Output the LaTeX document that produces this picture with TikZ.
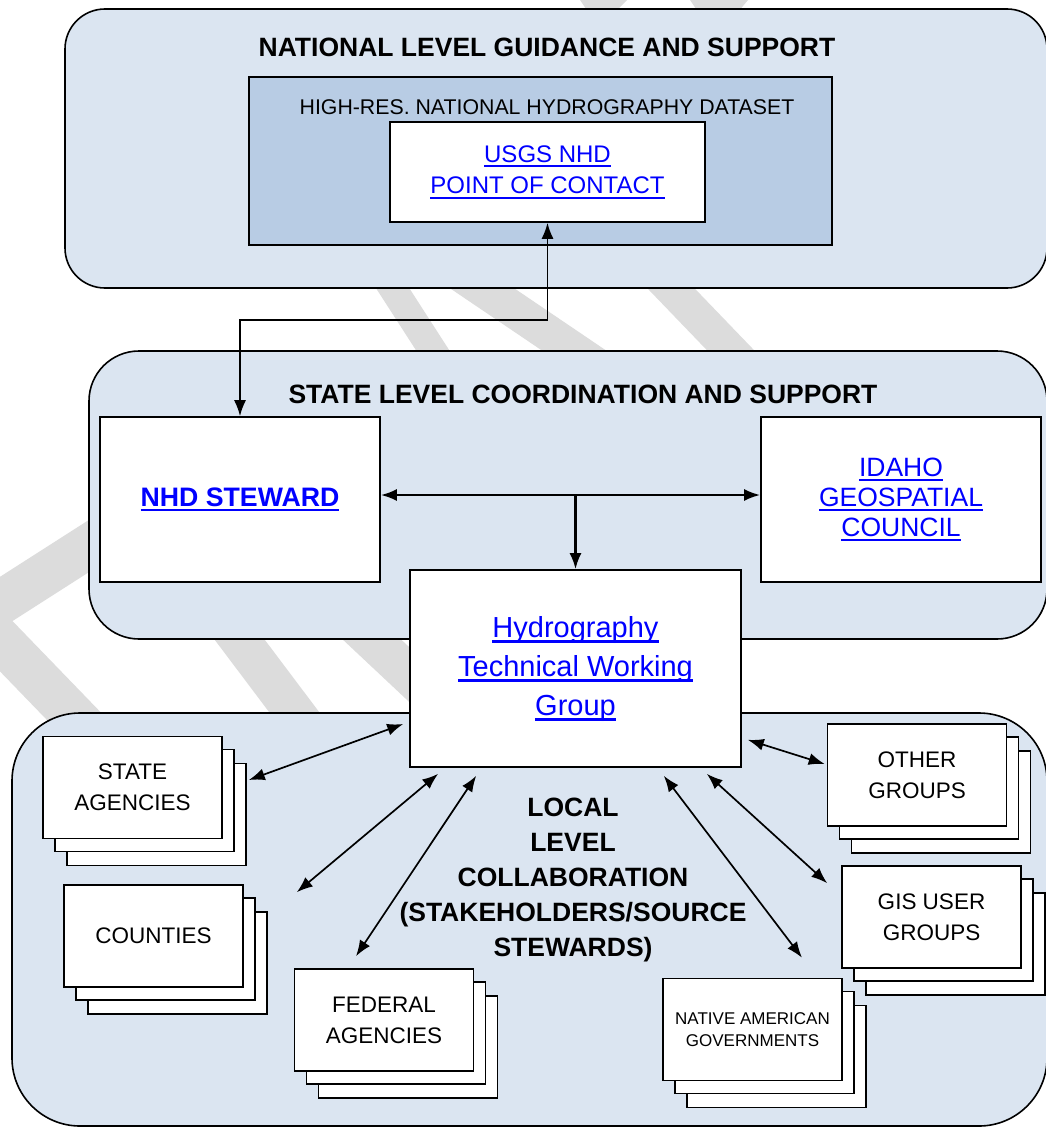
\documentclass[tikz,border=0pt]{standalone}
\usepackage{fontspec}
\setmainfont{Liberation Sans}
\usetikzlibrary{arrows.meta,shadows}

\definecolor{panelblue}{HTML}{DBE5F1}
\definecolor{hiresblue}{HTML}{B8CCE4}
\definecolor{linkblue}{RGB}{0,0,255}
\definecolor{markgray}{HTML}{DCDCDC}

% underlined link text
\newcommand{\ulink}[1]{\leavevmode\setbox0=\hbox{#1}\rlap{\rule[-0.19em]{\wd0}{0.075em}}\box0}

\tikzstyle{wmark} = [draw=markgray]
\tikzstyle{panel} = [draw, fill=panelblue, line width=1.6pt, inner sep=0pt]
\tikzstyle{block} = [draw, fill=white, line width=1.6pt, align=center, inner sep=0pt]
\tikzstyle{link} = [text=linkblue]
\tikzstyle{stack} = [block, minimum width=179pt, minimum height=102pt,
    font=\fontsize{22.5}{31}\selectfont,
    copy shadow={shadow xshift=24pt, shadow yshift=-27pt, line width=1.5pt},
    copy shadow={shadow xshift=12pt, shadow yshift=-13pt, line width=1.5pt}]
\tikzstyle{line} = [draw, line width=1.7pt, -{Latex[length=16pt,width=12pt]}]
\tikzstyle{both} = [line, {Latex[length=16pt,width=12pt]}-{Latex[length=16pt,width=12pt]}]

\begin{document}
\begin{tikzpicture}[x=1pt, y=-1pt]
    \useasboundingbox (0,0) rectangle (1045,1127);

    % watermark bands behind the panels
    \draw [wmark, line width=44pt, line join=round] (189,482) -- (-22,617) -- (152,797);
    \draw [wmark, line width=40pt] (200,587) -- (340,773);
    \draw [wmark, line width=40pt] (300,572) -- (480,741);
    \draw [wmark, line width=28pt] (370,253) -- (455,385);
    \draw [wmark, line width=36pt] (430,253) -- (625,385);
    \draw [wmark, line width=34pt] (637,253) -- (764,385);
    \fill [markgray] (580,0) -- (627,0) -- (615,12) -- (588,12) -- cycle;
    \fill [markgray] (690,0) -- (748,0) -- (738,12) -- (698,12) -- cycle;

    % levels
    \node [panel, rounded corners=40pt, minimum width=982pt, minimum height=279pt] (national) at (556,148.5) {};
    \node [panel, rounded corners=50pt, minimum width=958pt, minimum height=288pt] (state) at (568,495) {};
    \node [panel, rounded corners=68pt, minimum width=1035pt, minimum height=413pt] (local) at (529.5,919.5) {};

    % national level
    \node [font=\bfseries\fontsize{26.5}{32}\selectfont] (nattitle) at (547,47) {NATIONAL LEVEL GUIDANCE AND SUPPORT};
    \node [block, fill=hiresblue, minimum width=583pt, minimum height=168pt] (hires) at (540.5,161) {};
    \node [font=\fontsize{21.3}{25}\selectfont] (hirestitle) at (547,107) {HIGH-RES. NATIONAL HYDROGRAPHY DATASET};
    \node [block, link, minimum width=315pt, minimum height=100pt, font=\fontsize{24}{31.7}\selectfont] (usgs) at (547.5,172)
        {\ulink{USGS NHD}\\\ulink{POINT OF CONTACT}};

    % state level
    \node [font=\bfseries\fontsize{26.5}{32}\selectfont] (statetitle) at (583,394) {STATE LEVEL COORDINATION AND SUPPORT};
    \node [block, link, minimum width=280pt, minimum height=165pt, font=\bfseries\fontsize{26.7}{32}\selectfont] (steward) at (240,499.5)
        {\ulink{NHD STEWARD}};
    \node [block, link, minimum width=280pt, minimum height=165pt, font=\fontsize{26.5}{30}\selectfont] (idaho) at (901,499.5)
        {\ulink{IDAHO}\\\ulink{GEOSPATIAL}\\\ulink{COUNCIL}};
    \node [block, link, minimum width=331pt, minimum height=197pt, font=\fontsize{29}{39}\selectfont] (htwg) at (575.5,668.5)
        {\ulink{Hydrography}\\\ulink{Technical Working}\\\ulink{Group}};

    % local level
    \node [font=\bfseries\fontsize{26.5}{35}\selectfont, align=center] (localtitle) at (573,880)
        {LOCAL\\LEVEL\\COLLABORATION\\(STAKEHOLDERS/SOURCE\\STEWARDS)};
    \node [stack] (sa) at (132.5,787.5) {STATE\\AGENCIES};
    \node [stack] (co) at (153.5,936) {COUNTIES};
    \node [stack] (fa) at (384,1020) {FEDERAL\\AGENCIES};
    \node [stack] (og) at (917,775) {OTHER\\GROUPS};
    \node [stack] (gis) at (931.5,917) {GIS USER\\GROUPS};
    \node [stack, font=\fontsize{17}{22.7}\selectfont] (na) at (752.5,1029.5) {NATIVE AMERICAN\\GOVERNMENTS};

    % connectors
    \path [both] (usgs.south) -- ++(0,97) -| (steward.north);
    \coordinate (hub) at ([yshift=4.5pt]steward.east);
    \path [both, line width=2.4pt] (hub) -- (hub -| idaho.west);
    \path [line, line width=2.4pt] (hub -| htwg.north) -- (htwg.north);

    \path [both] ([shift={(26,-7.5)}]sa.east) -- ([shift={(-6,55.5)}]htwg.west);
    \path [both] ([shift={(53,8)}]co.north east) -- ([shift={(29,6)}]htwg.south west);
    \path [both] ([shift={(-28,-12)}]fa.north) -- ([shift={(67,8)}]htwg.south west);
    \path [both] ([shift={(6,-28)}]htwg.south east) -- ([shift={(-2,-11)}]og.west);
    \path [both] ([shift={(-35,6)}]htwg.south east) -- ([shift={(-14,18)}]gis.north west);
    \path [both] ([shift={(-78,8)}]htwg.south east) -- ([shift={(49.5,-20)}]na.north);
\end{tikzpicture}
\end{document}
